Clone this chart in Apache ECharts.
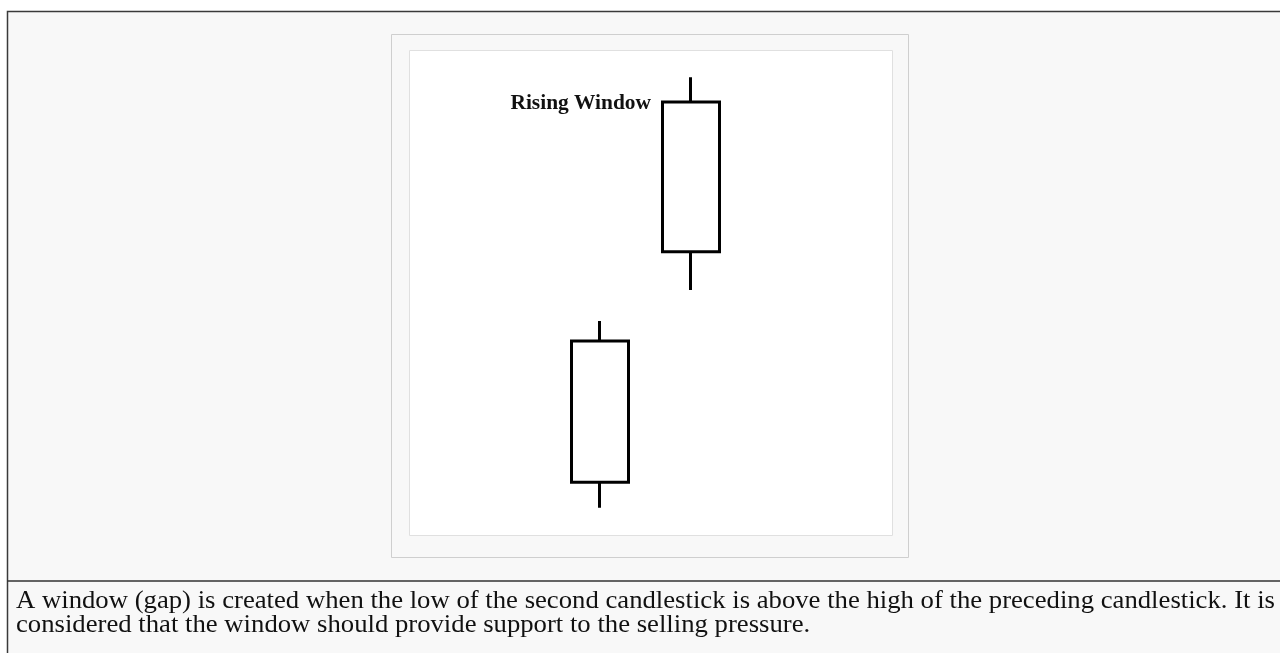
<!DOCTYPE html>
<html>
<head>
<meta charset="utf-8">
<script src="https://cdn.jsdelivr.net/npm/echarts@6/dist/echarts.min.js"></script>
<style>
  html, body { margin: 0; padding: 0; background: #fff; }
  #main { width: 1280px; height: 653px; }
</style>
</head>
<body>
<div id="main"></div>
<script>
// two sessions, price
var days = ['Day 1', 'Day 2'];
var openVals = [10.9, 58.4];
var closeVals = [40.0, 89.3];
var lowVals = [5.6, 50.5];
var highVals = [44.1, 94.4];

var noteText = 'Rising Window';
var captionLines = [
  'A window (gap) is created when the low of the second candlestick is above the high of the preceding candlestick. It is',
  'considered that the window should provide support to the selling pressure.'
];

var candles = [];
for (var i = 0; i < days.length; i++) {
  candles.push([openVals[i], closeVals[i], lowVals[i], highVals[i]]);
}

var chart = echarts.init(document.getElementById('main'));
chart.setOption({
  animation: false,
  grid: { left: 554.5, width: 182, top: 50, height: 485 },
  xAxis: { type: 'category', data: days, show: false },
  yAxis: { type: 'value', min: 0, max: 100, show: false },
  graphic: [
    {
      type: 'rect', z: 0,
      shape: { x: 7.5, y: 11.5, width: 1300, height: 700 },
      style: { fill: '#f8f8f8', stroke: '#3a3a3a', lineWidth: 1.5 }
    },
    {
      type: 'line', z: 1,
      shape: { x1: 7, y1: 581, x2: 1280, y2: 581 },
      style: { stroke: '#333', lineWidth: 1.5 }
    },
    {
      type: 'rect', z: 1,
      shape: { x: 391.5, y: 34.5, width: 517, height: 523 },
      style: { fill: '#f8f8f8', stroke: '#cfcfcf', lineWidth: 1 }
    },
    {
      type: 'rect', z: 1,
      shape: { x: 409.5, y: 50.5, width: 483, height: 485 },
      style: { fill: '#fff', stroke: '#e0e0e0', lineWidth: 1 }
    },
    {
      type: 'text', z: 3,
      x: 651, y: 104, scaleX: 1.07,
      style: {
        text: noteText, fill: '#111', align: 'right', verticalAlign: 'middle',
        font: 'bold 20px "Liberation Serif", serif'
      }
    },
    {
      type: 'text', z: 3,
      x: 16, y: 601, scaleX: 1.068,
      style: {
        text: captionLines[0], fill: '#111', verticalAlign: 'middle',
        font: '25px "Liberation Serif", serif'
      }
    },
    {
      type: 'text', z: 3,
      x: 16, y: 625, scaleX: 1.068,
      style: {
        text: captionLines[1], fill: '#111', verticalAlign: 'middle',
        font: '25px "Liberation Serif", serif'
      }
    }
  ],
  series: [{
    type: 'candlestick',
    data: candles,
    barWidth: 58,
    itemStyle: {
      color: '#fff', color0: '#fff',
      borderColor: '#000', borderColor0: '#000',
      borderWidth: 3
    }
  }]
});
</script>
</body>
</html>
